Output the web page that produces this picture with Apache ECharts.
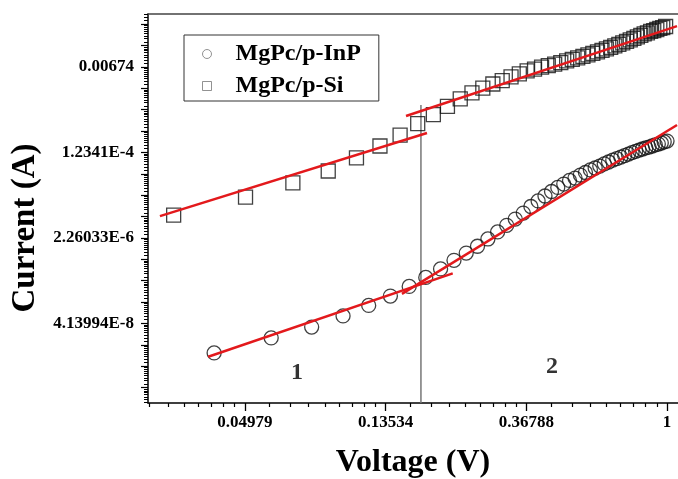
<!DOCTYPE html>
<html>
<head>
<meta charset="utf-8">
<script src="https://cdn.jsdelivr.net/npm/echarts@6/dist/echarts.min.js"></script>
<style>
html, body { margin: 0; padding: 0; background: #fff; }
#chart { width: 678px; height: 479px; }
</style>
</head>
<body>
<div id="chart"></div>
<script>
// both axes are natural-log scales, so points are kept as ln values
var inpVoltage = [0.04, 0.06, 0.08, 0.10, 0.12, 0.14, 0.16, 0.18, 0.20, 0.22, 0.24, 0.26, 0.28, 0.30, 0.32, 0.34, 0.36,
    0.38, 0.40, 0.42, 0.44, 0.46, 0.48, 0.50, 0.52, 0.54, 0.56, 0.58, 0.60, 0.62, 0.64, 0.66, 0.68, 0.70, 0.72, 0.74,
    0.76, 0.78, 0.80, 0.82, 0.84, 0.86, 0.88, 0.90, 0.92, 0.94, 0.96, 0.98, 1.00];
var inpLnI = [-18.38, -17.68, -17.17, -16.65, -16.16, -15.72, -15.27, -14.85, -14.45, -14.05, -13.71, -13.39, -13.05,
    -12.72, -12.41, -12.12, -11.84, -11.53, -11.27, -11.04, -10.83, -10.64, -10.48, -10.31, -10.20, -10.06, -9.94,
    -9.82, -9.73, -9.64, -9.54, -9.45, -9.36, -9.29, -9.22, -9.15, -9.08, -9.01, -8.95, -8.89, -8.84, -8.79, -8.75,
    -8.70, -8.65, -8.61, -8.56, -8.51, -8.47];

var siVoltage = [0.03, 0.05, 0.07, 0.09, 0.11, 0.13, 0.15, 0.17, 0.19, 0.21, 0.23, 0.25, 0.27, 0.29, 0.31, 0.33, 0.35,
    0.37, 0.39, 0.41, 0.43, 0.45, 0.47, 0.49, 0.51, 0.53, 0.55, 0.57, 0.59, 0.61, 0.63, 0.65, 0.67, 0.69, 0.71, 0.73,
    0.75, 0.77, 0.79, 0.81, 0.83, 0.85, 0.87, 0.89, 0.91, 0.93, 0.95, 0.97, 0.99];
var siLnI = [-11.93, -11.09, -10.43, -9.87, -9.26, -8.70, -8.19, -7.65, -7.23, -6.85, -6.50, -6.22, -5.99, -5.80,
    -5.64, -5.47, -5.33, -5.19, -5.10, -5.01, -4.94, -4.87, -4.80, -4.72, -4.65, -4.58, -4.51, -4.44, -4.37, -4.30,
    -4.23, -4.16, -4.09, -4.02, -3.95, -3.88, -3.81, -3.74, -3.67, -3.60, -3.53, -3.46, -3.41, -3.34, -3.30, -3.25,
    -3.20, -3.16, -3.11];

// straight fits, end points as [lnV, lnI]
var inpFit1 = [[-3.261, -18.56], [-1.523, -14.66]];
var inpFit2 = [[-1.884, -15.62], [0.071, -7.72]];
var siFit1 = [[-3.604, -11.98], [-1.706, -8.09]];
var siFit2 = [[-1.855, -7.30], [0.071, -3.09]];
var divider = [[-1.749, -20.723], [-1.749, -6.78]];

var regionLabels = [['1', -2.63, -19.32], ['2', -0.818, -19.04]];

var xMin = Math.log(0.025), xMax = 0.078;
var yMin = Math.log(1e-9), yMax = Math.log(0.08);
var xTickLn = [-3, -2, -1, 0];
var xTickLabels = ['0.04979', '0.13534', '0.36788', '1'];
var yTickLn = [-5, -9, -13, -17];
var yTickLabels = ['0.00674', '1.2341E-4', '2.26033E-6', '4.13994E-8'];
var yUnitTicks = [];
for (var k = -20; k <= -3; k++) yUnitTicks.push(k);

// Origin-style minor ticks: linear steps between e^k and e^(k+1)
function linMinors(lo, hi) {
    var out = [];
    for (var k = Math.floor(lo); k < Math.ceil(hi); k++) {
        var a = Math.exp(k), b = Math.exp(k + 1);
        for (var j = 1; j < 9; j++) {
            var v = Math.log(a + j * (b - a) / 9);
            if (v > lo && v < hi) out.push(v);
        }
    }
    return out;
}

function pairs(xs, ys) {
    return xs.map(function (v, i) { return [Math.log(v), ys[i]]; });
}

var serif = 'Liberation Serif';
var lineStyleRed = { color: '#e3191c', width: 2.5 };
var hollow = { color: 'transparent', borderColor: '#111', borderWidth: 1.3 };
var legendIcon = { color: 'transparent', borderColor: '#777', borderWidth: 1 };

var chart = echarts.init(document.getElementById('chart'));

var option = {
    animation: false,
    backgroundColor: '#fff',
    grid: { left: 148, top: 14, right: 0, bottom: 76, outerBoundsMode: 'none' },
    legend: {
        orient: 'vertical',
        left: 184, top: 35,
        padding: [7, 18, 3, 18],
        itemGap: 8,
        itemWidth: 9, itemHeight: 9,
        borderColor: '#333', borderWidth: 1,
        textStyle: { fontFamily: serif, fontWeight: 'bold', fontSize: 24, color: '#000', padding: [0, 0, 0, 19] },
        data: [
            { name: 'MgPc/p-InP', icon: 'circle', itemStyle: legendIcon },
            { name: 'MgPc/p-Si', icon: 'rect', itemStyle: legendIcon }
        ]
    },
    xAxis: [{
        type: 'value', min: xMin, max: xMax,
        name: 'Voltage (V)', nameLocation: 'middle', nameGap: 44,
        nameTextStyle: { fontFamily: serif, fontWeight: 'bold', fontSize: 32, color: '#000' },
        axisLine: { onZero: false, lineStyle: { color: '#000', width: 1.5 } },
        axisTick: { customValues: xTickLn, length: 8, lineStyle: { color: '#000', width: 1.3 } },
        axisLabel: {
            customValues: xTickLn, margin: 11,
            fontFamily: serif, fontWeight: 'bold', fontSize: 17, color: '#000',
            formatter: function (v) { return xTickLabels[xTickLn.indexOf(Math.round(v))]; }
        },
        splitLine: { show: false }
    }, {
        type: 'value', min: xMin, max: xMax, position: 'bottom',
        axisLine: { show: false, onZero: false },
        axisTick: { customValues: linMinors(xMin, xMax), length: 4, lineStyle: { color: '#000', width: 1.2 } },
        axisLabel: { show: false },
        splitLine: { show: false }
    }, {
        // top frame line only
        type: 'value', min: xMin, max: xMax, position: 'top',
        axisLine: { onZero: false, lineStyle: { color: '#444', width: 1.5 } },
        axisTick: { show: false },
        axisLabel: { show: false },
        splitLine: { show: false }
    }],
    yAxis: [{
        type: 'value', min: yMin, max: yMax, position: 'left',
        name: 'Current (A)', nameLocation: 'middle', nameGap: 104,
        nameTextStyle: { fontFamily: serif, fontWeight: 'bold', fontSize: 33, color: '#000', padding: [0, 39, 0, 0] },
        axisLine: { onZero: false, lineStyle: { color: '#000', width: 1.5 } },
        axisTick: { customValues: yUnitTicks, length: 7, lineStyle: { color: '#000', width: 1.2 } },
        axisLabel: {
            customValues: yTickLn, margin: 14,
            fontFamily: serif, fontWeight: 'bold', fontSize: 17, color: '#000',
            formatter: function (v) { return yTickLabels[yTickLn.indexOf(Math.round(v))]; }
        },
        splitLine: { show: false }
    }, {
        type: 'value', min: yMin, max: yMax, position: 'left',
        axisLine: { show: false, onZero: false },
        axisTick: { customValues: linMinors(yMin, yMax), length: 4, lineStyle: { color: '#000', width: 1 } },
        axisLabel: { show: false },
        splitLine: { show: false }
    }],
    series: [
        {
            name: 'MgPc/p-InP', type: 'scatter', symbol: 'circle', symbolSize: 14,
            itemStyle: hollow, data: pairs(inpVoltage, inpLnI), z: 2
        },
        {
            name: 'MgPc/p-Si', type: 'scatter', symbol: 'rect', symbolSize: 14,
            itemStyle: hollow, data: pairs(siVoltage, siLnI), z: 2
        },
        { type: 'line', data: inpFit1, symbol: 'none', lineStyle: lineStyleRed, z: 3 },
        { type: 'line', data: inpFit2, symbol: 'none', lineStyle: lineStyleRed, z: 3 },
        { type: 'line', data: siFit1, symbol: 'none', lineStyle: lineStyleRed, z: 3 },
        { type: 'line', data: siFit2, symbol: 'none', lineStyle: lineStyleRed, z: 3 },
        { type: 'line', data: divider, symbol: 'none', lineStyle: { color: '#777', width: 1.5 }, z: 1 },
        {
            type: 'scatter', symbolSize: 0,
            data: regionLabels.map(function (r) { return { name: r[0], value: [r[1], r[2]] }; }),
            label: {
                show: true, position: 'inside', formatter: '{b}',
                fontFamily: serif, fontWeight: 'bold', fontSize: 24, color: '#000'
            }
        }
    ]
};

chart.setOption(option);
</script>
</body>
</html>
